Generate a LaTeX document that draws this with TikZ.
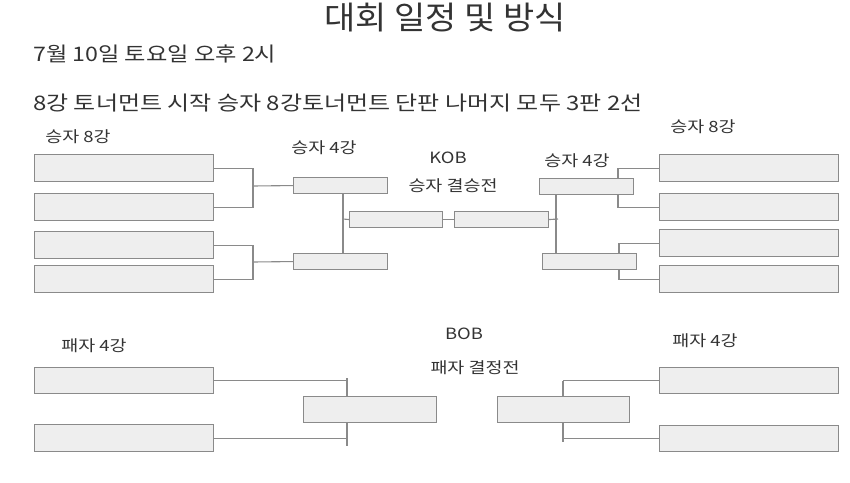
\documentclass[tikz,border=0pt]{standalone}
\usepackage{graphicx}
\usepackage{fontspec}
\setmainfont{Noto Sans CJK KR}
\usetikzlibrary{backgrounds}
\definecolor{boxfill}{HTML}{EEEEEE}
\definecolor{boxline}{HTML}{8A8A8A}
\definecolor{wirecol}{HTML}{8A8A8A}
\definecolor{txt}{HTML}{333333}
\newcommand{\wtxt}[2][1.19]{\scalebox{#1}[1]{#2}}
\begin{document}
\begin{tikzpicture}[x=1pt,y=-1pt,
  box/.style={draw=boxline, fill=boxfill, line width=1.1pt, inner sep=0pt, anchor=north west},
  bigbox/.style={box, minimum width=179pt, minimum height=27pt},
  midbox/.style={box, minimum width=94pt, minimum height=16pt},
  losbox/.style={box, minimum width=133pt, minimum height=26pt},
  wire/.style={draw=wirecol, line width=1.1pt},
  lbl/.style={text=txt, inner sep=0pt, font=\fontsize{15.5}{16}\selectfont},
  bigtxt/.style={text=txt, inner sep=0pt, anchor=base west, font=\fontsize{20}{21}\selectfont}]
\useasboundingbox (0,0) rectangle (850,482);
% title and info
\node[text=txt, inner sep=0pt, anchor=base, font=\fontsize{32}{32}\selectfont] (title) at (445,29.5) {\wtxt[1.06]{대회 일정 및 방식}};
\node[bigtxt] (date) at (33,61) {\wtxt[1.16]{7월 10일 토요일 오후 2시}};
\node[bigtxt] (rule) at (33,110) {\wtxt[1.20]{8강 토너먼트 시작 승자 8강토너먼트 단판 나머지 모두 3판 2선}};
% labels
\node[lbl] (tw8l) at (78,137) {\wtxt{승자 8강}};
\node[lbl] (tw4l) at (324,148) {\wtxt{승자 4강}};
\node[lbl] (tkob) at (448,158) {\wtxt{KOB}};
\node[lbl] (tfin) at (453,186) {\wtxt{승자 결승전}};
\node[lbl] (tw4r) at (577,161) {\wtxt{승자 4강}};
\node[lbl] (tw8r) at (703,127) {\wtxt{승자 8강}};
\node[lbl] (tl4l) at (94,346) {\wtxt{패자 4강}};
\node[lbl] (tbob) at (464,334) {\wtxt{BOB}};
\node[lbl] (tlfin) at (475,368) {\wtxt{패자 결정전}};
\node[lbl] (tl4r) at (705,341) {\wtxt{패자 4강}};
% winner bracket boxes
\node[bigbox] (L1) at (34,154) {};
\node[bigbox] (L2) at (34,193) {};
\node[bigbox] (L3) at (34,231) {};
\node[bigbox] (L4) at (34,265) {};
\node[bigbox] (R1) at (659,154) {};
\node[bigbox] (R2) at (659,193) {};
\node[bigbox] (R3) at (659,229) {};
\node[bigbox] (R4) at (659,265) {};
\node[midbox] (LQ1) at (293,177) {};
\node[midbox] (LQ2) at (293,253) {};
\node[midbox] (RQ1) at (539,178) {};
\node[midbox] (RQ2) at (542,253) {};
\node[midbox, minimum width=93pt] (LF) at (349,211) {};
\node[midbox] (RF) at (454,211) {};
% loser bracket boxes
\node[bigbox, minimum height=26pt] (LL1) at (34,367) {};
\node[bigbox] (LL2) at (34,424) {};
\node[bigbox, minimum height=26pt] (RL1) at (659,367) {};
\node[bigbox, minimum height=26pt] (RL2) at (659,425) {};
\node[losbox] (LB) at (303,396) {};
\node[losbox, minimum width=132pt] (RB) at (497,396) {};
% connectors
\coordinate (jl1) at (253,186);
\coordinate (jl2) at (253,262);
\coordinate (jls) at (343,219);
\coordinate (jrs) at (556,219);
\coordinate (jrs2) at (558,219);
\coordinate (jr1) at (618,186);
\coordinate (jr2) at (619,262);
\coordinate (jb1) at (347,378);
\coordinate (jb2) at (347,446);
\coordinate (jc1) at (563,381);
\coordinate (jc2) at (563,442);
\begin{pgfonlayer}{background}
\draw[wire] (L1.east) -| (jl1) |- (L2.east);
\draw[wire] (jl1) -- (LQ1.west);
\draw[wire] (L3.east) -| (jl2) |- (L4.east);
\draw[wire] (jl2) -- (LQ2.west);
\draw[wire] (LQ1.south -| jls) -- (LQ2.north -| jls);
\draw[wire] (jls) -- (LF.west);
\draw[wire] (LF.east) -- (RF.west);
\draw[wire] (RQ1.south -| jrs) -- (RQ2.north -| jrs);
\draw[wire] (RF.east) -- (jrs2);
\draw[wire] (R1.west) -| (jr1) |- (R2.west);
\draw[wire] (R3.west) -| (jr2) |- (R4.west);
\draw[wire] (jb1) -- (jb2);
\draw[wire] (LL1.east) -- (LL1.east -| jb1);
\draw[wire] (LL2.east) -- (LL2.east -| jb1);
\draw[wire] (jc1) -- (jc2);
\draw[wire] (RL1.west) -- (RL1.west -| jc1);
\draw[wire] (RL2.west) -- (RL2.west -| jc1);
\end{pgfonlayer}
\end{tikzpicture}
\end{document}
